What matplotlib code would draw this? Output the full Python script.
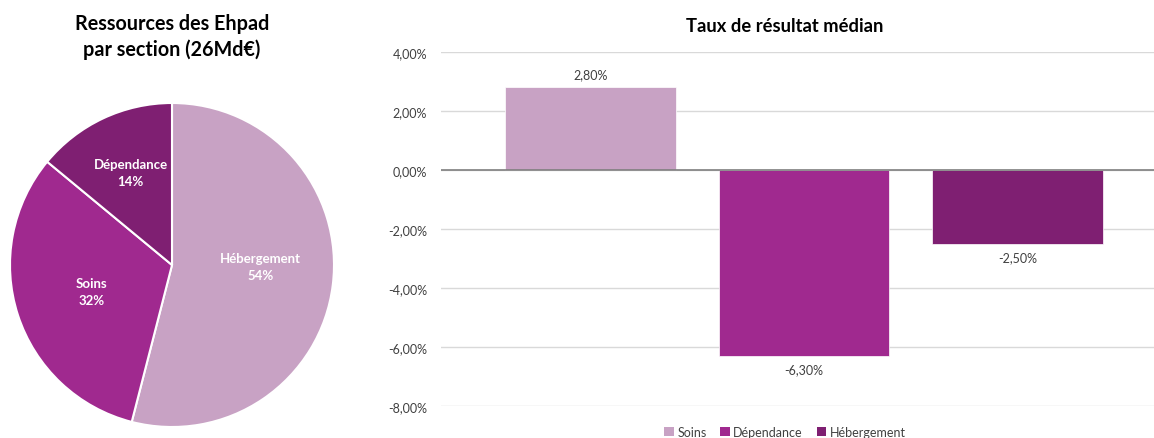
import matplotlib
matplotlib.use("Agg")
import matplotlib.pyplot as plt
from matplotlib.patches import Patch
from matplotlib.ticker import FuncFormatter
import numpy as np

plt.rcParams['font.family'] = ['Lato', 'DejaVu Sans']

# Pie data
pie_labels = ["Hébergement", "Soins", "Dépendance"]
pie_values = [54, 32, 14]
pie_colors = ["#C8A2C4", "#A0298F", "#7F1F72"]

# Bar data
bar_series = ["Soins", "Dépendance", "Hébergement"]
bar_values = [2.80, -6.30, -2.50]
bar_colors = ["#C8A2C4", "#A0298F", "#7F1F72"]
y_ticks = [4, 2, 0, -2, -4, -6, -8]

W, H = 1154, 439
fig = plt.figure(figsize=(W / 100, H / 100), dpi=100)

# ---- Pie ----
cx, cy, r = 172, 266, 162
axp = fig.add_axes([(cx - r) / W, (H - cy - r) / H, 2 * r / W, 2 * r / H])
wedges = axp.pie(pie_values, colors=pie_colors, startangle=90, counterclock=False,
                 wedgeprops=dict(edgecolor="white", linewidth=1.5))[0]
dists = [0.55, 0.52, 0.6]
dys = [0.06, 0.0, 0.03]
for w, lab, v, d, dy in zip(wedges, pie_labels, pie_values, dists, dys):
    ang = np.deg2rad((w.theta1 + w.theta2) / 2)
    axp.text(d * np.cos(ang), d * np.sin(ang) + dy, f"{lab}\n{v}%", ha="center", va="center",
             color="white", fontsize=9.5, fontweight="bold", linespacing=1.5)
axp.set_xlim(-1, 1)
axp.set_ylim(-1, 1)
axp.set_aspect("equal")
axp.axis("off")
fig.text(172 / W, 1 - 37 / H, "Ressources des Ehpad\npar section (26Md€)", ha="center", va="center",
         fontsize=14.2, fontweight="bold", linespacing=1.3)

# ---- Bars ----
left_px, right_px = 441, 1154
top_px, bot_px = 53, 407
axb = fig.add_axes([left_px / W, (H - bot_px) / H, (right_px - left_px) / W, (bot_px - top_px) / H])
x = list(range(len(bar_values)))
axb.bar(x, bar_values, width=0.80, color=bar_colors, edgecolor="white", linewidth=0.5, zorder=3)
axb.set_ylim(-8, 4)
axb.set_xlim(-0.70, 2.64)
axb.set_yticks(y_ticks)
axb.yaxis.set_major_formatter(FuncFormatter(lambda v, p: f"{v:.2f}%".replace(".", ",")))
axb.tick_params(axis="y", length=0, labelsize=9, labelcolor="#404040", pad=10)
axb.set_xticks([])
axb.grid(axis="y", color="#D9D9D9", linewidth=1, zorder=0)
for s in axb.spines.values():
    s.set_visible(False)
axb.axhline(0, color="#7F7F7F", linewidth=1.2, zorder=4)
for xi, v in zip(x, bar_values):
    lab = f"{v:.2f}%".replace(".", ",")
    if v >= 0:
        axb.annotate(lab, (xi, v), xytext=(0, 5), textcoords="offset points", ha="center", va="bottom",
                     fontsize=9, color="#404040")
    else:
        axb.annotate(lab, (xi, v), xytext=(0, -5), textcoords="offset points", ha="center", va="top",
                     fontsize=9, color="#404040")
fig.text(785 / W, 1 - 27 / H, "Taux de résultat médian", ha="center", va="center",
         fontsize=13.2, fontweight="bold")

handles = [Patch(facecolor=c, edgecolor="none") for c in bar_colors]
fig.legend(handles, bar_series, loc="center", bbox_to_anchor=(785 / W, 1 - 433 / H), ncol=3,
           frameon=False, fontsize=9, handlelength=0.75, handleheight=0.75, handletextpad=0.3,
           columnspacing=1.1, labelcolor="#404040")

fig.savefig("out.png", dpi=100)
